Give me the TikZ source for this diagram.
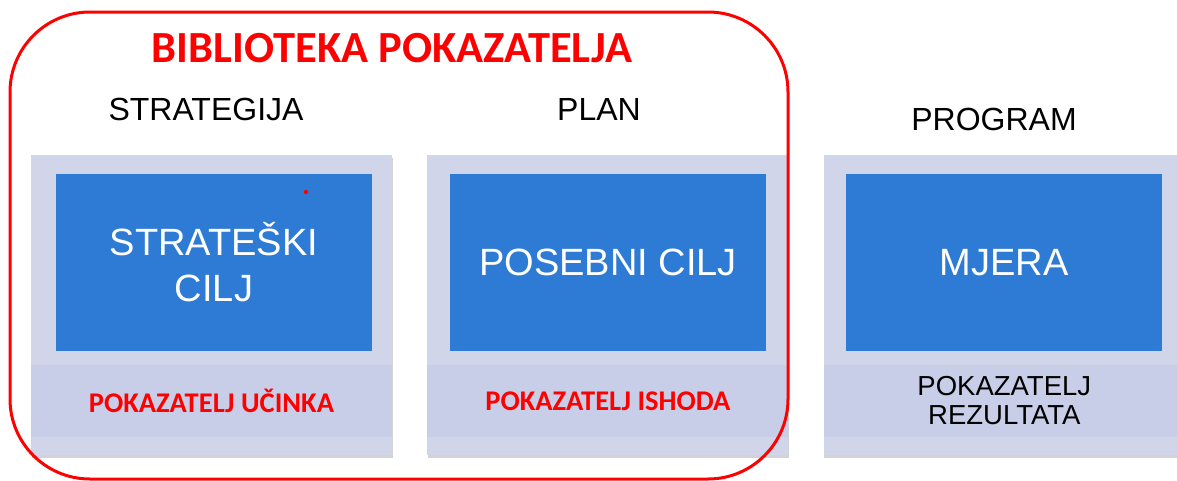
\documentclass[tikz,border=0pt]{standalone}
\usepackage{fontspec}
\setmainfont{Liberation Sans}
\newfontfamily\calibri{Carlito}
\usetikzlibrary{positioning}
\usetikzlibrary{calc, shadows}

\definecolor{panelbg}{RGB}{208,213,234}
\definecolor{bandbg}{RGB}{200,206,231}
\definecolor{goalblue}{RGB}{46,123,214}
\definecolor{libred}{RGB}{255,0,0}

\begin{document}
\begin{tikzpicture}
[
	x=1pt, y=-1pt,
	node distance = 35pt,
	panel/.style={rectangle, fill=panelbg, inner sep=0pt, minimum width=361pt, minimum height=300pt,
		drop shadow={shadow xshift=0.5pt, shadow yshift=-3pt, opacity=0.35}},
	band/.style={rectangle, fill=bandbg, inner sep=0pt, minimum width=361pt, minimum height=72pt},
	goal/.style={rectangle, fill=goalblue, inner sep=0pt, minimum width=316pt, minimum height=177pt,
		text=white, align=center, font=\fontsize{38}{46}\selectfont},
	level/.style={anchor=base, font=\fontsize{32}{38}\selectfont},
	indicator/.style={text=libred, font=\calibri\bfseries\fontsize{28.5}{34}\selectfont},
	libframe/.style={draw=libred, line width=3pt, rounded corners=80pt, inner sep=0pt}
  ]
	\useasboundingbox (0,0) rectangle (1177,480);

	\node[panel] (P1) at (211.5,305) {};
	\node[panel, right=of P1] (P2) {};
	\node[panel, right=of P2] (P3) {};

	\node[band, below=210pt of P1.north] (B1) {};
	\node[band, below=210pt of P2.north] (B2) {};
	\node[band, below=210pt of P3.north] (B3) {};

	\node[goal, below=19pt of P1.north, xshift=2.5pt] (G1) {STRATEŠKI\\CILJ};
	\node[goal, below=19pt of P2.north] (G2) {POSEBNI CILJ};
	\node[goal, below=19pt of P3.north] (G3) {MJERA};
	\fill[libred] (306,192) circle (2.2pt);

	\node[indicator] (I1) at (B1) {POKAZATELJ UČINKA};
	\node[indicator] (I2) at (B2) {POKAZATELJ ISHODA};
	\node[align=center, font=\fontsize{27.5}{29}\selectfont] (I3) at (B3) {POKAZATELJ\\REZULTATA};

	\node[level] (Strat) at (206,120) {STRATEGIJA};
	\node[level] (Plan) at (599,120) {PLAN};
	\node[level] (Prog) at (994,130) {PROGRAM};

	\node[libframe, minimum width=778pt, minimum height=467pt] (Lib) at (399,245.5) {};
	\node[anchor=base, text=libred, font=\calibri\bfseries\fontsize{44.5}{50}\selectfont] (Title) at (392,62) {BIBLIOTEKA POKAZATELJA};
\end{tikzpicture}
\end{document}
